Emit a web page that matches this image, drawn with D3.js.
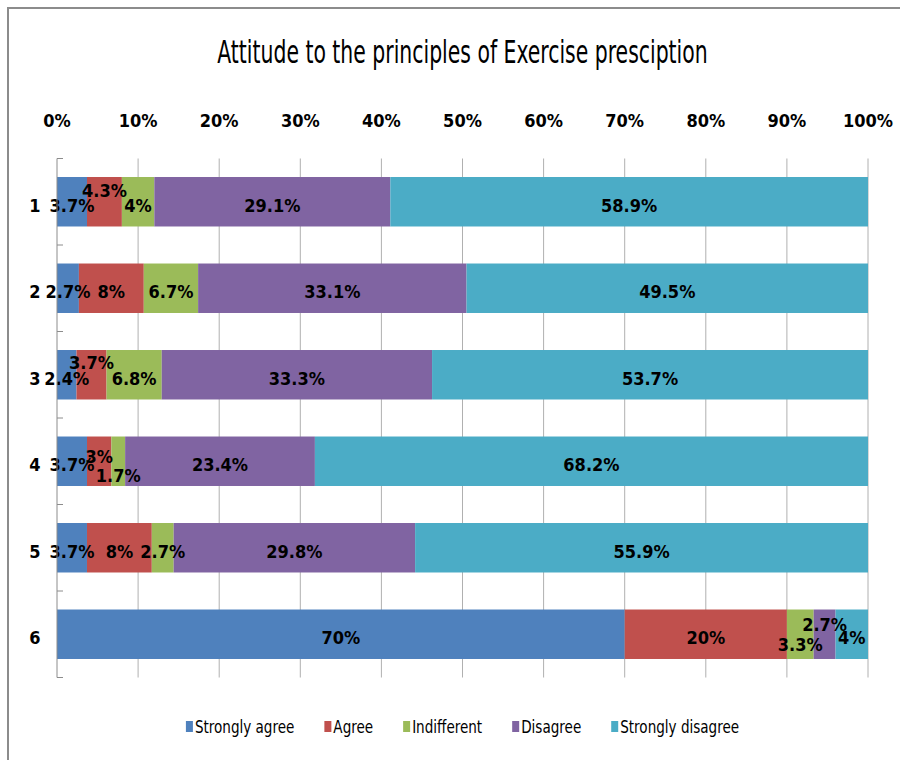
<!DOCTYPE html>
<html>
  <head>
    <script src="https://d3js.org/d3.v7.min.js"></script>
    <style>
      body { margin: 0; background: #fff; }
      text { font-family: "DejaVu Sans Condensed", "DejaVu Sans", sans-serif; font-stretch: condensed; }
    </style>
  </head>
  <body>
    <script>
      // data
      var categories = ["1", "2", "3", "4", "5", "6"];
      var seriesNames = ["Strongly agree", "Agree", "Indifferent", "Disagree", "Strongly disagree"];
      var stronglyAgree    = [3.7, 2.7, 2.4, 3.7, 3.7, 70];
      var agree            = [4.3, 8, 3.7, 3, 8, 20];
      var indifferent      = [4, 6.7, 6.8, 1.7, 2.7, 3.3];
      var disagree         = [29.1, 33.1, 33.3, 23.4, 29.8, 2.7];
      var stronglyDisagree = [58.9, 49.5, 53.7, 68.2, 55.9, 4];
      var tickValues = [0, 10, 20, 30, 40, 50, 60, 70, 80, 90, 100];
      var colors = ["#4f81bd", "#c0504d", "#9bbb59", "#8064a2", "#4bacc6"];

      // label nudges where labels collide (row-series : dy)
      var nudge = {"0-1": -15, "2-1": -16, "3-1": -8, "3-2": 11, "5-2": 7, "5-3": -13};

      var W = 900, H = 760;
      var margin = {top: 158.5, left: 57, right: 32, bottom: 82.5};

      var svg = d3.select("body").append("svg")
          .attr("width", W)
          .attr("height", H);

      // frame
      svg.append("rect")
          .attr("x", 8).attr("y", 8)
          .attr("width", 920).attr("height", 800)
          .attr("fill", "none")
          .attr("stroke", "#8c8c8c")
          .attr("stroke-width", 2);

      var x = d3.scaleLinear()
          .domain([0, 100])
          .range([margin.left, W - margin.right]);
      var y = d3.scaleBand()
          .domain(categories)
          .range([margin.top, H - margin.bottom])
          .paddingInner(0.428)
          .paddingOuter(0.214);

      // build rows, normalised like a 100% stacked chart
      var rows = categories.map(function(c, i) {
        var vals = [stronglyAgree[i], agree[i], indifferent[i], disagree[i], stronglyDisagree[i]];
        var total = d3.sum(vals);
        var o = {cat: c};
        seriesNames.forEach(function(s, j) { o[s] = vals[j] / total * 100; o["raw" + j] = vals[j]; });
        return o;
      });
      var stacked = d3.stack().keys(seriesNames)(rows);

      // grid lines
      svg.append("g")
        .selectAll("line")
        .data(tickValues.slice(1))
        .join("line")
          .attr("x1", function(d) { return x(d); })
          .attr("x2", function(d) { return x(d); })
          .attr("y1", margin.top)
          .attr("y2", H - margin.bottom)
          .attr("stroke", "#b0b0b0");

      // bars
      var groups = svg.append("g")
        .selectAll("g")
        .data(stacked)
        .join("g")
          .attr("fill", function(d, i) { return colors[i]; });

      groups.selectAll("rect")
        .data(function(d) { return d; })
        .join("rect")
          .attr("x", function(d) { return x(d[0]); })
          .attr("y", function(d) { return y(d.data.cat); })
          .attr("width", function(d) { return x(d[1]) - x(d[0]); })
          .attr("height", y.bandwidth());

      // value labels
      stacked.forEach(function(layer, j) {
        svg.append("g")
          .selectAll("text")
          .data(layer)
          .join("text")
            .attr("x", function(d) { return (x(d[0]) + x(d[1])) / 2; })
            .attr("y", function(d, i) { return y(d.data.cat) + y.bandwidth() / 2 + 10 + (nudge[i + "-" + j] || 0); })
            .attr("text-anchor", "middle")
            .attr("font-size", 18)
            .attr("font-weight", "bold")
            .attr("fill", "#000")
            .text(function(d) { return d.data["raw" + j] + "%"; });
      });

      // left axis
      var yAxis = svg.append("g")
          .attr("transform", "translate(" + margin.left + ",0)");
      yAxis.append("line")
          .attr("x1", 0).attr("x2", 0)
          .attr("y1", margin.top).attr("y2", H - margin.bottom)
          .attr("stroke", "#8c8c8c");
      var bounds = d3.range(categories.length + 1).map(function(k) { return margin.top + k * y.step(); });
      yAxis.selectAll(".tk")
        .data(bounds)
        .join("line")
          .attr("class", "tk")
          .attr("x1", 0).attr("x2", 6)
          .attr("y1", function(d) { return d; })
          .attr("y2", function(d) { return d; })
          .attr("stroke", "#8c8c8c");
      yAxis.selectAll("text")
        .data(categories)
        .join("text")
          .attr("x", -22)
          .attr("y", function(d) { return y(d) + y.bandwidth() / 2 + 10; })
          .attr("text-anchor", "middle")
          .attr("font-size", 18)
          .attr("font-weight", "bold")
          .text(function(d) { return d; });

      // top axis labels
      svg.append("g")
        .selectAll("text")
        .data(tickValues)
        .join("text")
          .attr("x", function(d) { return x(d); })
          .attr("y", 127)
          .attr("text-anchor", "middle")
          .attr("font-size", 18)
          .attr("font-weight", "bold")
          .text(function(d) { return d + "%"; });

      // title
      svg.append("text")
          .attr("transform", "translate(" + ((x(0) + x(100)) / 2) + ",63) scale(0.72,1)")
          .attr("text-anchor", "middle")
          .attr("font-size", 31.5)
          .text("Attitude to the principles of Exercise presciption");

      // legend
      var legend = svg.append("g");
      var lx = 0, gap = 30, sx = 0.886;
      seriesNames.forEach(function(s, i) {
        var item = legend.append("g").attr("transform", "translate(" + lx + ",0)");
        item.append("rect")
          .attr("x", 0).attr("y", 721)
          .attr("width", 7).attr("height", 11)
          .attr("fill", colors[i]);
        var t = item.append("text")
          .attr("transform", "translate(9,733) scale(" + sx + ",1)")
          .attr("font-size", 17)
          .text(s);
        lx += 9 + t.node().getComputedTextLength() * sx + gap;
      });
      lx -= gap;
      legend.attr("transform", "translate(" + ((x(0) + x(100)) / 2 - lx / 2) + ",0)");
    </script>
  </body>
</html>
